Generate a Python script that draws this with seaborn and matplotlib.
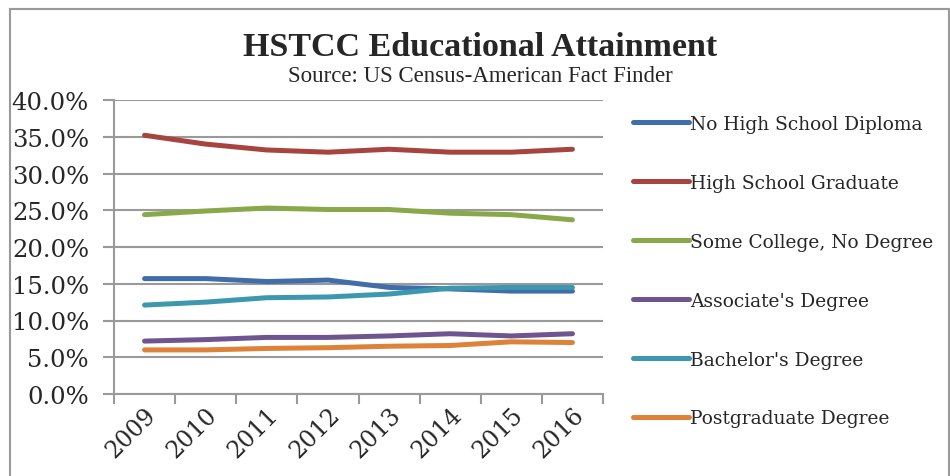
import matplotlib
matplotlib.use('Agg')
import matplotlib.pyplot as plt
from matplotlib.patches import Rectangle
from matplotlib.ticker import FixedLocator, FuncFormatter
import pandas as pd
import seaborn as sns

sns.set_style('white')

# chart data (percent of population 25+)
years = ['2009', '2010', '2011', '2012', '2013', '2014', '2015', '2016']
no_hs_diploma = [15.7, 15.7, 15.3, 15.5, 14.5, 14.3, 14.0, 14.0]
hs_graduate = [35.2, 34.0, 33.2, 32.9, 33.3, 32.9, 32.9, 33.3]
some_college = [24.4, 24.9, 25.3, 25.1, 25.1, 24.6, 24.4, 23.7]
associates = [7.2, 7.4, 7.7, 7.7, 7.9, 8.2, 7.9, 8.2]
bachelors = [12.1, 12.5, 13.1, 13.2, 13.6, 14.4, 14.5, 14.5]
postgraduate = [6.0, 6.0, 6.2, 6.3, 6.5, 6.6, 7.1, 7.0]

series_names = ['No High School Diploma', 'High School Graduate',
                'Some College, No Degree', "Associate's Degree",
                "Bachelor's Degree", 'Postgraduate Degree']
series_values = [no_hs_diploma, hs_graduate, some_college,
                 associates, bachelors, postgraduate]
colors = ['#416EAA', '#A84440', '#88A84A', '#6E5590', '#3D98AF', '#DE823A']

rows = []
for name, values in zip(series_names, series_values):
    for i, (year, v) in enumerate(zip(years, values)):
        rows.append({'pos': i, 'year': year, 'level': name, 'pct': v})
df = pd.DataFrame(rows)

tick_font = 'DejaVu Serif'
title_font = 'Liberation Serif'
grid_color = '#9a9a9a'

fig = plt.figure(figsize=(9.5, 4.77), dpi=100)
ax = fig.add_axes([114 / 950, 1 - 395 / 477, 489 / 950, 294 / 477])

sns.lineplot(data=df, x='pos', y='pct', hue='level', hue_order=series_names,
             palette=dict(zip(series_names, colors)), linewidth=3.6,
             solid_capstyle='round', ax=ax, legend=True)

ax.set_xlim(-0.5, len(years) - 0.5)
ax.set_ylim(0, 40)
ax.set_yticks([0, 5, 10, 15, 20, 25, 30, 35, 40])
ax.yaxis.set_major_formatter(FuncFormatter(lambda v, p: f'{v:.1f}%'))
ax.yaxis.grid(True, color=grid_color, linewidth=1.5)
ax.set_axisbelow(True)

# category boundaries as tick marks, labels centred on categories
ax.xaxis.set_major_locator(FixedLocator([i - 0.5 for i in range(len(years) + 1)]))
ax.xaxis.set_minor_locator(FixedLocator(list(range(len(years)))))
ax.set_xticklabels([''] * (len(years) + 1))
ax.set_xticklabels(years, minor=True, rotation=45, ha='right',
                   rotation_mode='anchor', fontsize=17, family=tick_font)
ax.tick_params(axis='x', which='major', direction='out', length=7,
               width=1.5, color=grid_color, bottom=True)
ax.tick_params(axis='x', which='minor', length=0, pad=6)
ax.tick_params(axis='y', direction='out', length=8, width=1.5,
               color=grid_color, left=True, pad=10)
for lab in ax.get_yticklabels():
    lab.set_family(tick_font)
    lab.set_fontsize(17.5)

for side in ['top', 'right']:
    ax.spines[side].set_visible(False)
for side in ['left', 'bottom']:
    ax.spines[side].set_color(grid_color)
    ax.spines[side].set_linewidth(1.5)

ax.set_xlabel('')
ax.set_ylabel('')

handles, labels = ax.get_legend_handles_labels()
ax.legend(handles, labels, loc='upper left', bbox_to_anchor=(616 / 950, 1 - 99 / 477),
          bbox_transform=fig.transFigure, frameon=False, handlelength=3.0,
          handletextpad=0.1, labelspacing=2.2,
          prop={'family': tick_font, 'size': 13.4})

fig.text(480 / 950, 1 - 47 / 477, 'HSTCC Educational Attainment',
         ha='center', va='center', fontsize=24.5, fontweight='bold', family=title_font)
fig.text(480 / 950, 1 - 76 / 477, 'Source: US Census-American Fact Finder',
         ha='center', va='center', fontsize=16.5, family=title_font)

fig.patches.append(Rectangle((10 / 950, -0.1), 939 / 950, 1.1 - 10 / 477,
                             transform=fig.transFigure, fill=False,
                             edgecolor=grid_color, linewidth=1.5))

fig.savefig('out.png', dpi=100)
